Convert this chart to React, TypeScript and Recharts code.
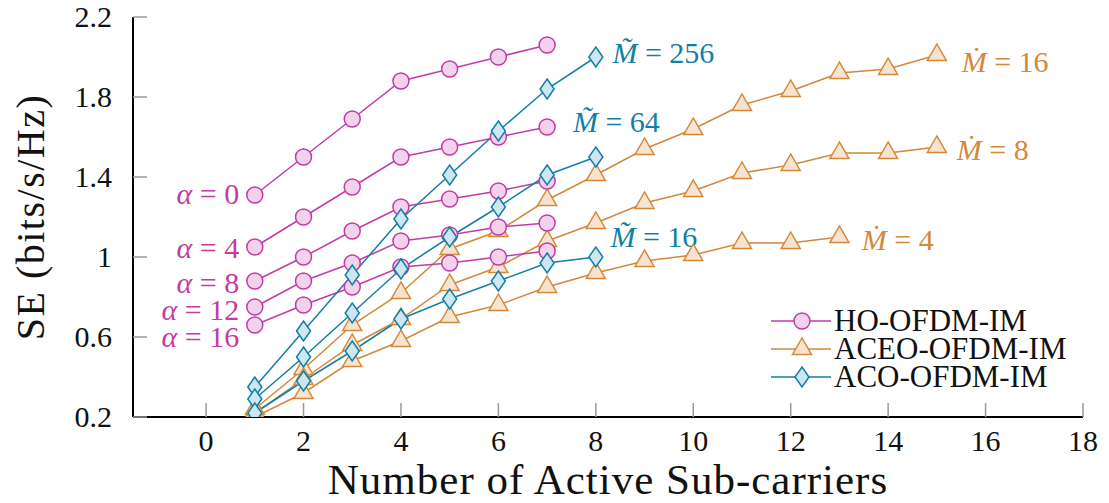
import React from "react";
import { LineChart, Line, XAxis, YAxis, Legend, ReferenceDot } from "recharts";

// x positions (number of active sub-carriers)
const hoCarriers = [1, 2, 3, 4, 5, 6, 7];
const acoCarriers = [1, 2, 3, 4, 5, 6, 7, 8];
const aceoCarriers = [1, 2, 3, 4, 5, 6, 7, 8, 9, 10, 11, 12, 13, 14, 15];
const aceoCarriersM4 = [1, 2, 3, 4, 5, 6, 7, 8, 9, 10, 11, 12, 13];

// HO-OFDM-IM, one series per alpha
const hoAlpha0 = [1.31, 1.5, 1.69, 1.88, 1.94, 2.0, 2.06];
const hoAlpha4 = [1.05, 1.2, 1.35, 1.5, 1.55, 1.6, 1.65];
const hoAlpha8 = [0.88, 1.0, 1.13, 1.25, 1.29, 1.33, 1.38];
const hoAlpha12 = [0.75, 0.88, 0.97, 1.08, 1.11, 1.15, 1.17];
const hoAlpha16 = [0.66, 0.76, 0.85, 0.95, 0.97, 1.0, 1.03];

// ACO-OFDM-IM
const aco256 = [0.35, 0.63, 0.91, 1.19, 1.41, 1.63, 1.84, 2.0];
const aco64 = [0.29, 0.5, 0.72, 0.94, 1.1, 1.25, 1.41, 1.5];
const aco16 = [0.22, 0.38, 0.53, 0.69, 0.79, 0.88, 0.97, 1.0];

// ACEO-OFDM-IM
const aceo16 = [0.24, 0.44, 0.66, 0.82, 1.04, 1.13, 1.285, 1.41, 1.54, 1.64, 1.76, 1.83, 1.92, 1.94, 2.01];
const aceo8 = [0.22, 0.39, 0.56, 0.69, 0.86, 0.95, 1.08, 1.17, 1.27, 1.33, 1.42, 1.46, 1.52, 1.52, 1.55];
const aceo4 = [0.2, 0.32, 0.48, 0.58, 0.7, 0.76, 0.85, 0.92, 0.98, 1.01, 1.07, 1.07, 1.1];

const xTicks = [0, 2, 4, 6, 8, 10, 12, 14, 16, 18];
const yTicks = [0.2, 0.6, 1, 1.4, 1.8, 2.2];

const FONT = "Liberation Serif";
const MAGENTA = "#c43ba6";
const MAGENTA_FILL = "#f2d2ec";
const ORANGE = "#d4883a";
const ORANGE_FILL = "#f7e4d0";
const BLUE = "#127fa8";
const BLUE_FILL = "#cde6ef";
const TICK = "#9a9a9a";

const toPoints = (xs: number[], ys: number[]) => xs.map((x, i) => ({ x, y: ys[i] }));

// curve annotations, in data coordinates
const annotations = [
  { sym: "α", rest: " = 0", x: 0.68, y: 1.315, anchor: "end", color: MAGENTA },
  { sym: "α", rest: " = 4", x: 0.68, y: 1.045, anchor: "end", color: MAGENTA },
  { sym: "α", rest: " = 8", x: 0.68, y: 0.87, anchor: "end", color: MAGENTA },
  { sym: "α", rest: " = 12", x: 0.68, y: 0.735, anchor: "end", color: MAGENTA },
  { sym: "α", rest: " = 16", x: 0.68, y: 0.6, anchor: "end", color: MAGENTA },
  { sym: "M\u0303", rest: " = 256", x: 8.34, y: 2.02, anchor: "start", color: BLUE },
  { sym: "M\u0303", rest: " = 64", x: 7.53, y: 1.676, anchor: "start", color: BLUE },
  { sym: "M\u0303", rest: " = 16", x: 8.3, y: 1.1, anchor: "start", color: BLUE },
  { sym: "M\u0307", rest: " = 16", x: 15.51, y: 1.976, anchor: "start", color: ORANGE },
  { sym: "M\u0307", rest: " = 8", x: 15.41, y: 1.535, anchor: "start", color: ORANGE },
  { sym: "M\u0307", rest: " = 4", x: 13.46, y: 1.085, anchor: "start", color: ORANGE },
];

type Shape = "circle" | "triangle" | "diamond";

function Marker({ shape, cx, cy, stroke, fill }: { shape: Shape; cx: number; cy: number; stroke: string; fill: string }) {
  if (shape === "circle") {
    return <circle cx={cx} cy={cy} r={8} stroke={stroke} strokeWidth={1.5} fill={fill} />;
  }
  if (shape === "triangle") {
    const pts = `${cx},${cy - 11} ${cx - 9.5},${cy + 5.5} ${cx + 9.5},${cy + 5.5}`;
    return <polygon points={pts} stroke={stroke} strokeWidth={1.5} fill={fill} />;
  }
  const pts = `${cx},${cy - 10} ${cx + 7},${cy} ${cx},${cy + 10} ${cx - 7},${cy}`;
  return <polygon points={pts} stroke={stroke} strokeWidth={1.5} fill={fill} />;
}

const makeDot = (shape: Shape, stroke: string, fill: string) => (p: any) => {
  if (p.cx == null || p.cy == null) return <g key={p.index} />;
  return (
    <g key={p.index}>
      <Marker shape={shape} cx={p.cx} cy={p.cy} stroke={stroke} fill={fill} />
    </g>
  );
};

const legendItems = [
  { name: "HO-OFDM-IM", shape: "circle" as Shape, color: MAGENTA, fill: MAGENTA_FILL },
  { name: "ACEO-OFDM-IM", shape: "triangle" as Shape, color: ORANGE, fill: ORANGE_FILL },
  { name: "ACO-OFDM-IM", shape: "diamond" as Shape, color: BLUE, fill: BLUE_FILL },
];

function LegendBox() {
  return (
    <svg width={318} height={92} style={{ display: "block", overflow: "visible" }}>
      {legendItems.map((it, i) => {
        const cy = 21 + i * 28;
        return (
          <g key={it.name}>
            <line x1={6} x2={66} y1={cy} y2={cy} stroke={it.color} strokeWidth={1.5} />
            <Marker shape={it.shape} cx={37} cy={cy} stroke={it.color} fill={it.fill} />
            <text x={69} y={cy + 10} fontSize={31} fill="#111" style={{ fontFamily: FONT }}>
              {it.name}
            </text>
          </g>
        );
      })}
    </svg>
  );
}

function BottomTick({ x, y, payload }: any) {
  return (
    <g>
      <line x1={x} x2={x} y1={y} y2={y - 14} stroke={TICK} strokeWidth={1.5} />
      <text x={x} y={y + 34} textAnchor="middle" fontSize={30} fill="#111" style={{ fontFamily: FONT }}>
        {payload.value}
      </text>
    </g>
  );
}

function TopTick({ x, y }: any) {
  return <line x1={x} x2={x} y1={y} y2={y + 14} stroke={TICK} strokeWidth={1.5} />;
}

function LeftTick({ x, y, payload }: any) {
  return (
    <g>
      <line x1={x} x2={x + 14} y1={y} y2={y} stroke={TICK} strokeWidth={1.5} />
      <text x={x - 21} y={y + 10} textAnchor="end" fontSize={30} fill="#111" style={{ fontFamily: FONT }}>
        {String(payload.value)}
      </text>
    </g>
  );
}

function RightTick({ x, y }: any) {
  return <line x1={x} x2={x - 14} y1={y} y2={y} stroke={TICK} strokeWidth={1.5} />;
}

const lineProps = {
  dataKey: "y",
  type: "linear" as const,
  strokeWidth: 1.5,
  activeDot: false,
  isAnimationActive: false,
  legendType: "none" as const,
};

export default function App() {
  return (
    <div style={{ position: "absolute", left: 0, top: 0, width: 1109, height: 503, background: "#fff" }}>
      <LineChart width={1109} height={503} margin={{ top: 17, right: 26, bottom: 6, left: 10 }}>
        <XAxis
          xAxisId={0}
          dataKey="x"
          type="number"
          domain={[-1.5, 18]}
          ticks={xTicks}
          allowDataOverflow
          height={80}
          tickSize={0}
          tickMargin={0}
          tick={<BottomTick />}
          axisLine={{ stroke: "#000", strokeWidth: 2 }}
          tickLine={false}
          label={{
            content: ({ viewBox }: any) => (
              <text
                x={viewBox.x + viewBox.width / 2}
                y={viewBox.y + 77}
                textAnchor="middle"
                fontSize={43}
                letterSpacing={1}
                fill="#111"
                style={{ fontFamily: FONT }}
              >
                Number of Active Sub-carriers
              </text>
            ),
          }}
        />
        <XAxis
          xAxisId="top"
          orientation="top"
          dataKey="x"
          type="number"
          domain={[-1.5, 18]}
          ticks={xTicks}
          allowDataOverflow
          height={0}
          tickSize={0}
          tickMargin={0}
          tick={<TopTick />}
          axisLine={{ stroke: "#000", strokeWidth: 2 }}
          tickLine={false}
        />
        <YAxis
          yAxisId={0}
          type="number"
          domain={[0.2, 2.2]}
          ticks={yTicks}
          allowDataOverflow
          width={123}
          tickSize={0}
          tickMargin={0}
          tick={<LeftTick />}
          axisLine={{ stroke: "#000", strokeWidth: 2 }}
          tickLine={false}
          label={{
            content: ({ viewBox }: any) => {
              const cx = viewBox.x + 34;
              const cy = viewBox.y + viewBox.height / 2;
              return (
                <text
                  x={cx}
                  y={cy}
                  transform={`rotate(-90 ${cx} ${cy})`}
                  textAnchor="middle"
                  fontSize={40}
                  letterSpacing={1.5}
                  fill="#111"
                  style={{ fontFamily: FONT }}
                >
                  SE (bits/s/Hz)
                </text>
              );
            },
          }}
        />
        <YAxis
          yAxisId="right"
          orientation="right"
          type="number"
          domain={[0.2, 2.2]}
          ticks={yTicks}
          allowDataOverflow
          width={0}
          tickSize={0}
          tickMargin={0}
          tick={<RightTick />}
          axisLine={{ stroke: "#000", strokeWidth: 2 }}
          tickLine={false}
        />

        <Line {...lineProps} data={toPoints(aceoCarriers, aceo16)} stroke={ORANGE} dot={makeDot("triangle", ORANGE, ORANGE_FILL)} />
        <Line {...lineProps} data={toPoints(aceoCarriers, aceo8)} stroke={ORANGE} dot={makeDot("triangle", ORANGE, ORANGE_FILL)} />
        <Line {...lineProps} data={toPoints(aceoCarriersM4, aceo4)} stroke={ORANGE} dot={makeDot("triangle", ORANGE, ORANGE_FILL)} />

        <Line {...lineProps} data={toPoints(hoCarriers, hoAlpha0)} stroke={MAGENTA} dot={makeDot("circle", MAGENTA, MAGENTA_FILL)} />
        <Line {...lineProps} data={toPoints(hoCarriers, hoAlpha4)} stroke={MAGENTA} dot={makeDot("circle", MAGENTA, MAGENTA_FILL)} />
        <Line {...lineProps} data={toPoints(hoCarriers, hoAlpha8)} stroke={MAGENTA} dot={makeDot("circle", MAGENTA, MAGENTA_FILL)} />
        <Line {...lineProps} data={toPoints(hoCarriers, hoAlpha12)} stroke={MAGENTA} dot={makeDot("circle", MAGENTA, MAGENTA_FILL)} />
        <Line {...lineProps} data={toPoints(hoCarriers, hoAlpha16)} stroke={MAGENTA} dot={makeDot("circle", MAGENTA, MAGENTA_FILL)} />

        <Line {...lineProps} data={toPoints(acoCarriers, aco256)} stroke={BLUE} dot={makeDot("diamond", BLUE, BLUE_FILL)} />
        <Line {...lineProps} data={toPoints(acoCarriers, aco64)} stroke={BLUE} dot={makeDot("diamond", BLUE, BLUE_FILL)} />
        <Line {...lineProps} data={toPoints(acoCarriers, aco16)} stroke={BLUE} dot={makeDot("diamond", BLUE, BLUE_FILL)} />

        {annotations.map((a, i) => (
          <ReferenceDot
            key={i}
            x={a.x}
            y={a.y}
            r={0}
            ifOverflow="visible"
            shape={(p: any) => (
              <text
                x={p.cx}
                y={p.cy + 10}
                textAnchor={a.anchor as any}
                fontSize={30}
                fill={a.color}
                style={{ fontFamily: FONT }}
              >
                <tspan fontStyle="italic">{a.sym}</tspan>
                {a.rest}
              </text>
            )}
          />
        ))}

        <Legend
          layout="vertical"
          align="center"
          verticalAlign="middle"
          wrapperStyle={{ left: 765, top: 300, width: 318, height: 92 }}
          content={() => <LegendBox />}
        />
      </LineChart>
    </div>
  );
}
